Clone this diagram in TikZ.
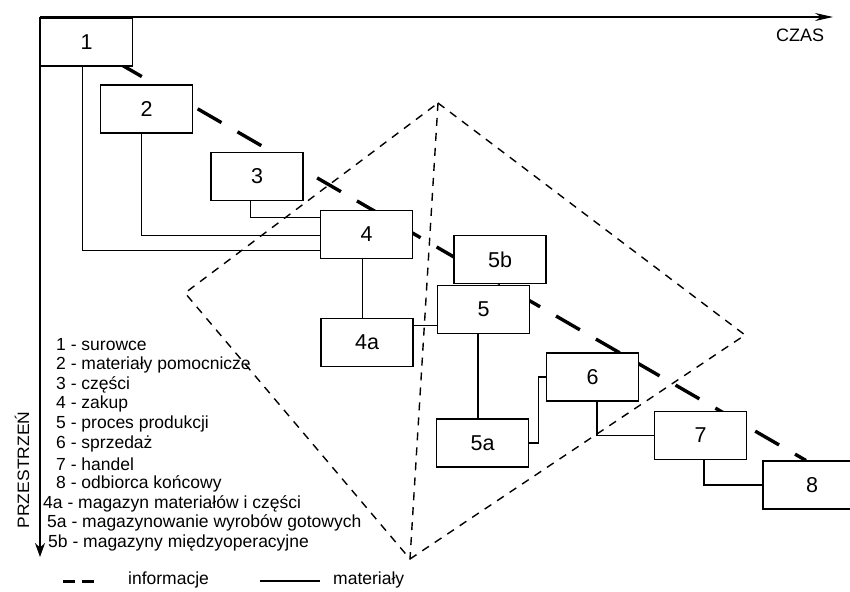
\documentclass[tikz,border=0pt]{standalone}
\usepackage{fontspec}
\setmainfont{Liberation Sans}
\usetikzlibrary{arrows.meta}
\begin{document}
\begin{tikzpicture}[x=1pt,y=-1pt,
  box/.style={draw, line width=1.3pt, fill=white, minimum width=92pt, minimum height=48pt, inner sep=0pt, font=\fontsize{21.5}{21.5}\selectfont},
  conn/.style={line width=1.2pt},
  info/.style={line width=3.4pt, dash pattern=on 27.5pt off 18.5pt},
  zone/.style={line width=1.4pt, dash pattern=on 8pt off 7pt},
  axis/.style={line width=1.4pt},
  legend/.style={anchor=west, inner sep=0pt, font=\fontsize{17.5}{17.5}\selectfont},
  axislabel/.style={inner sep=0pt, font=\fontsize{18}{18}\selectfont}]
\useasboundingbox (0,0) rectangle (850,591);
\fill[white] (0,0) rectangle (850,591);

% diamond zone
\coordinate (zA) at (438,103);
\coordinate (zL) at (185,293);
\coordinate (zR) at (745,335);
\coordinate (zB) at (410,559);
\draw[zone] (zA) -- (zR) -- (zB) -- (zL) -- cycle;
\draw[zone] (zA) -- (zB);

% information flow
\coordinate (i0) at (118,62.8);
\coordinate (i1) at (806,460.5);
\draw[info] (i0) -- (i1);

% axes
\coordinate (o) at (40,17);
\coordinate (tx) at (833,17);
\coordinate (ty) at (40,557);
\draw[axis, -{Stealth[length=18pt,width=8pt]}] (o) -- (tx);
\draw[axis, -{Stealth[length=14pt,width=10pt]}] (o) -- (ty);
\node[axislabel] (czas) at (800,35) {CZAS};
\node[axislabel, rotate=90, font=\fontsize{16.5}{16.5}\selectfont, xscale=1.06] (prz) at (22,470) {PRZESTRZEŃ};

% boxes
\node[box] (b1) at (86.5,42) {1};
\node[box] (b2) at (146.5,109) {2};
\node[box] (b3) at (257,176.5) {3};
\node[box] (b4) at (366.5,234.5) {4};
\node[box] (b5b) at (500,259.5) {5b};
\node[box] (b5) at (483.5,309.5) {5};
\node[box] (b4a) at (367,342.5) {4a};
\node[box] (b5a) at (482.5,443) {5a};
\node[box] (b6) at (592.5,377) {6};
\node[box] (b7) at (700.5,435.5) {7};
\node[box, minimum width=98pt] (b8) at (812,485) {8};

% material flow
\draw[conn] ([xshift=42.5pt]b1.south west) |- ([yshift=9pt]b4.south west);
\draw[conn] ([xshift=42pt]b2.south west) |- ([yshift=24pt]b4.south west);
\draw[conn] ([xshift=40pt]b3.south west) |- ([yshift=-8pt]b4.north west);
\draw[conn] ([xshift=-4pt]b4.south) -- ([xshift=-4pt]b4.south |- b4a.north);
\draw[conn] ([yshift=-8pt]b4a.north east) -- ([yshift=-8pt]b4a.north east -| b5.west);
\draw[conn] ([xshift=-5.5pt]b5.south) -- ([xshift=-5.5pt]b5.south |- b5a.north);
\draw[conn] (b5a.east) -- ++(9,0) |- (b6.west);
\draw[conn] ([xshift=4.5pt]b6.south) |- (b7.west);
\draw[conn] ([xshift=3.5pt]b7.south) |- (b8.west);

% legend list
\node[legend] (l1) at (56,345) {1 - surowce};
\node[legend] (l2) at (56,364.8) {2 - materiały pomocnicze};
\node[legend] (l3) at (56,384.6) {3 - części};
\node[legend] (l4) at (56,404.4) {4 - zakup};
\node[legend] (l5) at (56,424.2) {5 - proces produkcji};
\node[legend] (l6) at (56,444) {6 - sprzedaż};
\node[legend] (l7) at (56,463.8) {7 - handel};
\node[legend] (l8) at (56,483.6) {8 - odbiorca końcowy};
\node[legend] (l9) at (43,503.4) {4a - magazyn materiałów i części};
\node[legend] (l10) at (47,523.2) {5a - magazynowanie wyrobów gotowych};
\node[legend] (l11) at (48,543) {5b - magazyny międzyoperacyjne};

% bottom key
\coordinate (k1a) at (63,581);
\coordinate (k1b) at (94,581);
\draw[line width=3pt, dash pattern=on 12pt off 7pt] (k1a) -- (k1b);
\node[legend] (kinfo) at (128,580) {informacje};
\coordinate (k2a) at (260,581);
\coordinate (k2b) at (320,581);
\draw[conn] (k2a) -- (k2b);
\node[legend] (kmat) at (333,580) {materiały};
\end{tikzpicture}
\end{document}
